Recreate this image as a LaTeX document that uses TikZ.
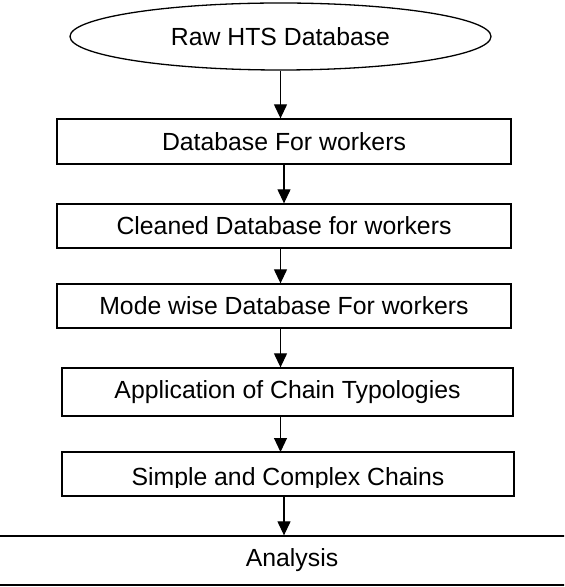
\documentclass[tikz,border=0pt]{standalone}
\usepackage{fontspec}
\setmainfont{Liberation Sans}
\usetikzlibrary{shapes.geometric,arrows.meta}

\tikzstyle{source} = [draw, ellipse, line width=0.65pt, inner sep=0pt,
  minimum width=210.5pt, minimum height=33.5pt]
\tikzstyle{stage} = [draw, rectangle, line width=0.65pt, inner sep=0pt,
  minimum width=227pt, minimum height=22pt]
\tikzstyle{flow} = [-{Triangle[length=7pt,width=6.5pt]}, line width=0.6pt]

\begin{document}
\begin{tikzpicture}[x=0.5pt, y=-0.5pt, font=\fontsize{12.4}{14}\selectfont]
        \useasboundingbox (0,0) rectangle (564,587);
        \clip (0,0) rectangle (564,587);

        \node [source] (raw)      at (280.5, 36.5) {Raw HTS Database};
        \node [stage]  (workers)  at (284, 141.5) [minimum height=22.5pt] {Database For workers};
        \node [stage]  (cleaned)  at (284, 226)   {Cleaned Database for workers};
        \node [stage]  (modewise) at (284, 306)   {Mode wise Database For workers};
        \node [stage]  (typology) at (287.5, 392) [minimum width=225.5pt,
          minimum height=24pt] {Application of Chain Typologies};
        % text of this box is cut off at its foot
        \begin{scope}
          \clip (62,452) rectangle (514,487);
          \node [stage, draw=none, outer sep=0pt, text height=11pt, text depth=0pt]
            (chains) at (288, 474) [minimum width=226pt] {Simple and Complex Chains};
        \end{scope}
        \draw [line width=0.65pt] (chains.south west) rectangle (chains.north east);
        \node [stage]  (analysis) at (292, 560.5) [minimum width=350pt,
          minimum height=24.5pt] {Analysis};

        \draw [flow] (raw.south) -- (workers.north -| raw.south);
        \draw [flow] (workers.south) -- (cleaned.north);
        \draw [flow] (cleaned.south -| raw.south) -- (modewise.north -| raw.south);
        \draw [flow] (modewise.south -| raw.south) -- (typology.north -| raw.south);
        \draw [flow] (typology.south -| raw.south) -- (chains.north -| raw.south);
        \draw [flow] (chains.south -| workers.south) -- (analysis.north -| workers.south);
      \end{tikzpicture}
\end{document}
